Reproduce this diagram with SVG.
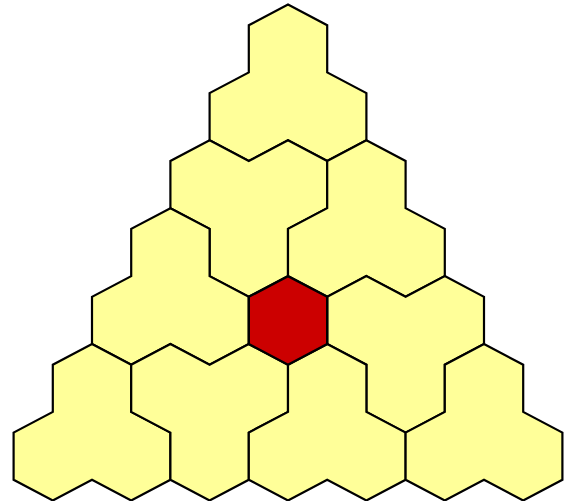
<svg xmlns="http://www.w3.org/2000/svg" width="565" height="501" viewBox="0 0 565 501">
<style>
.tile{fill:#ffff99;stroke:#000;stroke-width:2.2;stroke-linejoin:miter}
.center{fill:#cc0000;stroke:#000;stroke-width:2.4;stroke-linejoin:miter}
</style>
<rect width="565" height="501" fill="#fff"/>
<g id="tile1"><polygon class="tile" points="288,4.5 327.2,25.2 327.2,72.4 366.4,93.1 366.4,140.3 327.2,161 288,140.3 248.8,161 209.6,140.3 209.6,93.1 248.8,72.4 248.8,25.2"/></g>
<g id="tile2"><polygon class="tile" points="209.6,140.3 248.8,161 288,140.3 327.2,161 327.2,208.2 288,228.9 288,276.1 248.8,296.8 209.6,276.1 209.6,228.9 170.4,208.2 170.4,161"/></g>
<g id="tile3"><polygon class="tile" points="366.4,140.3 405.6,161 405.6,208.2 444.8,228.9 444.8,276.1 405.6,296.8 366.4,276.1 327.2,296.8 288,276.1 288,228.9 327.2,208.2 327.2,161"/></g>
<g id="tile4"><polygon class="tile" points="170.4,208.2 209.6,228.9 209.6,276.1 248.8,296.8 248.8,344 209.6,364.7 170.4,344 131.2,364.7 92,344 92,296.8 131.2,276.1 131.2,228.9"/></g>
<g id="tile5"><polygon class="tile" points="366.4,276.1 405.6,296.8 444.8,276.1 484,296.8 484,344 444.8,364.7 444.8,411.9 405.6,432.6 366.4,411.9 366.4,364.7 327.2,344 327.2,296.8"/></g>
<g id="tile6"><polygon class="tile" points="92,344 131.2,364.7 131.2,411.9 170.4,432.6 170.4,479.8 131.2,500.5 92,479.8 52.8,500.5 13.6,479.8 13.6,432.6 52.8,411.9 52.8,364.7"/></g>
<g id="tile7"><polygon class="tile" points="170.4,344 209.6,364.7 248.8,344 288,364.7 288,411.9 248.8,432.6 248.8,479.8 209.6,500.5 170.4,479.8 170.4,432.6 131.2,411.9 131.2,364.7"/></g>
<g id="tile8"><polygon class="tile" points="327.2,344 366.4,364.7 366.4,411.9 405.6,432.6 405.6,479.8 366.4,500.5 327.2,479.8 288,500.5 248.8,479.8 248.8,432.6 288,411.9 288,364.7"/></g>
<g id="tile9"><polygon class="tile" points="484,344 523.2,364.7 523.2,411.9 562.4,432.6 562.4,479.8 523.2,500.5 484,479.8 444.8,500.5 405.6,479.8 405.6,432.6 444.8,411.9 444.8,364.7"/></g>
<g id="center"><polygon class="center" points="288,276.1 327.2,296.8 327.2,344 288,364.7 248.8,344 248.8,296.8"/></g>
<g id="connectors"/>
</svg>
